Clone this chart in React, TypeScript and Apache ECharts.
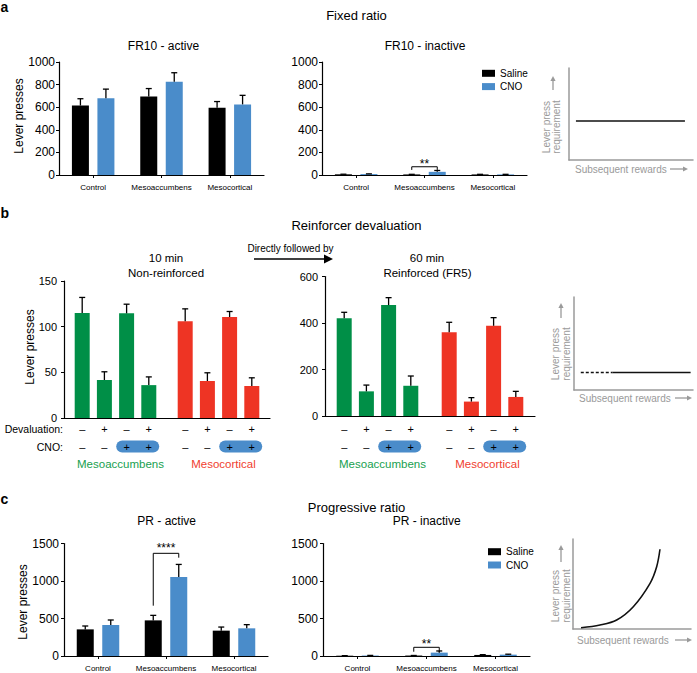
import React, { useEffect, useRef } from 'react';
import * as echarts from 'echarts';

const FONT = '"Liberation Sans", Arial, Helvetica, sans-serif';

// ---------- data ----------
const abCategories = ['Control', 'Mesoaccumbens', 'Mesocortical'];
const seriesNames = ['Saline', 'CNO'];

const fr10ActiveSaline = [615, 695, 595];
const fr10ActiveSalineErr = [60, 70, 55];
const fr10ActiveCNO = [680, 825, 625];
const fr10ActiveCNOErr = [80, 80, 80];

const fr10InactiveSaline = [6, 5, 5];
const fr10InactiveSalineErr = [1, 1, 1];
const fr10InactiveCNO = [8, 28, 5];
const fr10InactiveCNOErr = [2, 12, 1];
const fr10InactiveSig = [1, 45, 45, 73];
const fr10InactiveSigLabel = '**';

const devGroups = ['Mesoaccumbens', 'Mesocortical'];
const devalSigns = ['–', '+', '–', '+'];
const cnoSigns = ['–', '–', '+', '+'];
// [condition][group]
const nonReinforced = [[115, 106], [41.6, 40.5], [114.6, 110.6], [36, 35]];
const nonReinforcedErr = [[17, 13.5], [9, 9], [10, 6], [9, 9]];
const reinforced = [[420, 360], [106, 62], [477, 388], [130, 82]];
const reinforcedErr = [[26, 43], [27, 17], [32, 35], [42, 24]];

const prActiveSaline = [355, 475, 338];
const prActiveSalineErr = [45, 67, 48];
const prActiveCNO = [413, 1052, 369];
const prActiveCNOErr = [67, 169, 49];
const prActiveSig = [1, 671, 1311, 1369];
const prActiveSigLabel = '****';

const prInactiveSaline = [4, 6, 14];
const prInactiveSalineErr = [1, 1, 4];
const prInactiveCNO = [6, 45, 18];
const prInactiveCNOErr = [2, 22, 6];
const prInactiveSig = [1, 57, 57, 116];
const prInactiveSigLabel = '**';

// schematic schedules (axis units 0..10)
const fixedSchedule = [[0.56, 4.24], [9.35, 4.24]];
const devalDashed = [[0.57, 1.88], [3.22, 1.88]];
const devalSolid = [[3.22, 1.88], [9.8, 1.88]];
const progressiveCurve = [[0.68, 0.14], [2.29, 0.44], [3.7, 1.0], [5.11, 2.48], [6.53, 5.08], [7.09, 6.92], [7.37, 8.86]];

// ---------- style ----------
const BLACK = '#000000';
const BLUE = '#4a8cca';
const groupColors = ['#008f47', '#ee3424'];
const groupTextColors = ['#17a04f', '#f0402f'];
const GRAY = '#9a9a9a';

const grids = [
  { left: 59, top: 62, width: 205, height: 113 },
  { left: 322, top: 62, width: 205, height: 113 },
  { left: 569, top: 68, width: 124, height: 92 },
  { left: 64, top: 281, width: 206, height: 137 },
  { left: 325, top: 276.5, width: 210, height: 139.5 },
  { left: 574, top: 297, width: 119, height: 93 },
  { left: 64, top: 543.5, width: 204, height: 112.5 },
  { left: 323, top: 543.5, width: 207, height: 112.5 },
  { left: 573, top: 539, width: 118, height: 90 },
];

const BW_AC = 17;
const GAP_AC = 0.5;
const PITCH_AC = BW_AC * (1 + GAP_AC);
const BW_B = 15;
const GAP_B = 0.48;
const PITCH_B = BW_B * (1 + GAP_B);

const xCat = (gridIndex: number, data: string[], show: boolean) => ({
  type: 'category',
  gridIndex,
  data,
  axisLine: { lineStyle: { color: '#000', width: 1.2 } },
  axisTick: { show, alignWithLabel: true, length: 3, lineStyle: { color: '#000', width: 1 } },
  axisLabel: { show, fontSize: 8, color: '#000', margin: 8, fontFamily: FONT, interval: 0 },
  splitLine: { show: false },
});

const yVal = (gridIndex: number, max: number, interval: number, fontSize: number, margin: number) => ({
  type: 'value',
  gridIndex,
  min: 0,
  max,
  interval,
  axisLine: { show: true, lineStyle: { color: '#000', width: 1.2 } },
  axisTick: { show: true, length: 3, lineStyle: { color: '#000', width: 1 } },
  axisLabel: { fontSize, color: '#000', margin, fontFamily: FONT, formatter: (v: number) => String(v) },
  splitLine: { show: false },
});

const schemAxis = (gridIndex: number) => ({
  type: 'value',
  gridIndex,
  min: 0,
  max: 10,
  axisLine: { show: true, lineStyle: { color: GRAY, width: 1.5 } },
  axisTick: { show: false },
  axisLabel: { show: false },
  splitLine: { show: false },
});

const errSeries = (axis: number, vals: number[], errs: number[], pos: number, n: number, pitch: number) => ({
  type: 'custom',
  xAxisIndex: axis,
  yAxisIndex: axis,
  silent: true,
  z: 5,
  clip: false,
  data: vals.map((v, i) => [i, v, errs[i]]),
  encode: { x: 0, y: 1 },
  renderItem: (params: any, api: any) => {
    const i = api.value(0);
    const v = api.value(1);
    const e = api.value(2);
    const p0 = api.coord([i, v]);
    const p1 = api.coord([i, v + e]);
    const x = p0[0] + (pos - (n - 1) / 2) * pitch;
    return {
      type: 'group',
      children: [
        { type: 'line', shape: { x1: x, y1: p0[1], x2: x, y2: p1[1] }, style: { stroke: '#000', lineWidth: 1.3 } },
        { type: 'line', shape: { x1: x - 3, y1: p1[1], x2: x + 3, y2: p1[1] }, style: { stroke: '#000', lineWidth: 1.3 } },
      ],
    };
  },
});

const sigSeries = (axis: number, sig: number[], label: string, pitch: number, gap: number) => ({
  type: 'custom',
  xAxisIndex: axis,
  yAxisIndex: axis,
  silent: true,
  z: 6,
  clip: false,
  data: [sig],
  encode: { x: 0, y: 3 },
  renderItem: (params: any, api: any) => {
    const i = api.value(0);
    const pL = api.coord([i, api.value(1)]);
    const pR = api.coord([i, api.value(2)]);
    const pT = api.coord([i, api.value(3)]);
    const xL = pL[0] - pitch / 2;
    const xR = pL[0] + pitch / 2;
    return {
      type: 'group',
      children: [
        {
          type: 'polyline',
          shape: { points: [[xL, pL[1]], [xL, pT[1]], [xR, pT[1]], [xR, pR[1]]] },
          style: { stroke: '#000', lineWidth: 1, fill: 'none' },
        },
        {
          type: 'text',
          x: (xL + xR) / 2,
          y: pT[1] - gap,
          style: {
            text: label,
            fontSize: 12,
            fontFamily: FONT,
            fill: '#000',
            align: 'center',
            verticalAlign: 'middle',
            textAlign: 'center',
            textVerticalAlign: 'middle',
          },
        },
      ],
    };
  },
});

const pairBars = (axis: number, saline: number[], salineErr: number[], cno: number[], cnoErr: number[]) => [
  {
    type: 'bar', name: seriesNames[0], xAxisIndex: axis, yAxisIndex: axis, data: saline,
    barWidth: BW_AC, barGap: GAP_AC * 100 + '%', itemStyle: { color: BLACK }, silent: true,
  },
  {
    type: 'bar', name: seriesNames[1], xAxisIndex: axis, yAxisIndex: axis, data: cno,
    barWidth: BW_AC, barGap: GAP_AC * 100 + '%', itemStyle: { color: BLUE }, silent: true,
  },
  errSeries(axis, saline, salineErr, 0, 2, PITCH_AC),
  errSeries(axis, cno, cnoErr, 1, 2, PITCH_AC),
];

const devBars = (axis: number, values: number[][], errs: number[][]) => {
  const out: any[] = [];
  devalSigns.forEach((d, s) => {
    out.push({
      type: 'bar',
      name: `Devaluation ${d} / CNO ${cnoSigns[s]}`,
      xAxisIndex: axis,
      yAxisIndex: axis,
      barWidth: BW_B,
      barGap: GAP_B * 100 + '%',
      silent: true,
      data: devGroups.map((g, gi) => ({ value: values[s][gi], itemStyle: { color: groupColors[gi] } })),
    });
  });
  devalSigns.forEach((d, s) => {
    out.push(errSeries(axis, values[s], errs[s], s, 4, PITCH_B));
  });
  return out;
};

const schemLine = (axis: number, data: number[][], dashed: boolean, smooth: number | boolean) => ({
  type: 'line',
  xAxisIndex: axis,
  yAxisIndex: axis,
  data,
  symbol: 'none',
  smooth,
  silent: true,
  lineStyle: { color: '#111', width: 1.6, type: dashed ? [3, 2] : 'solid' },
});

const legendCfg = (left: number, top: number) => ({
  data: seriesNames,
  orient: 'vertical',
  left,
  top,
  itemWidth: 13,
  itemHeight: 7,
  itemGap: 2.3,
  icon: 'rect',
  selectedMode: false,
  textStyle: { fontSize: 10, lineHeight: 11, fontFamily: FONT, color: '#000' },
});

// ---------- graphic helpers ----------
const txt = (text: string, x: number, y: number, o: any = {}) => ({
  type: 'text',
  x,
  y,
  rotation: o.rot || 0,
  silent: true,
  z: 10,
  style: {
    text,
    fill: o.color || '#000',
    fontSize: o.size || 12,
    fontFamily: FONT,
    fontWeight: o.bold ? 'bold' : 'normal',
    textAlign: o.align || 'center',
    textVerticalAlign: 'middle',
  },
});

const line = (x1: number, y1: number, x2: number, y2: number, color: string, w: number) => ({
  type: 'line', silent: true, z: 10,
  shape: { x1, y1, x2, y2 },
  style: { stroke: color, lineWidth: w },
});

const upArrow = (x: number, yTop: number, yBottom: number) => [
  line(x, yBottom, x, yTop + 4, GRAY, 1.3),
  { type: 'polygon', silent: true, z: 10, shape: { points: [[x - 2.6, yTop + 5], [x, yTop], [x + 2.6, yTop + 5]] }, style: { fill: GRAY } },
];
const rightArrow = (xLeft: number, xRight: number, y: number, color: string, w: number, head: number) => [
  line(xLeft, y, xRight - head + 1, y, color, w),
  {
    type: 'polygon', silent: true, z: 10,
    shape: { points: [[xRight - head, y - head / 2], [xRight, y], [xRight - head, y + head / 2]] },
    style: { fill: color },
  },
];

const schematicLabels = (colA: number, colB: number, cy: number, arrowX: number, arrowTop: number, arrowBottom: number, rewardsX: number, rewardsY: number, arrowL: number, arrowR: number) => [
  txt('Lever press', colA, cy, { rot: Math.PI / 2, size: 10, color: GRAY }),
  txt('requirement', colB, cy, { rot: Math.PI / 2, size: 10, color: GRAY }),
  ...upArrow(arrowX, arrowTop, arrowBottom),
  txt('Subsequent rewards', rewardsX, rewardsY, { size: 10, color: GRAY, align: 'left' }),
  ...rightArrow(arrowL, arrowR, rewardsY, GRAY, 1.3, 5),
];

export default function App() {
  const ref = useRef<HTMLDivElement>(null);

  useEffect(() => {
    if (!ref.current) return;
    const chart = echarts.init(ref.current, null, { renderer: 'svg' });

    const option: any = {
      animation: false,
      backgroundColor: '#ffffff',
      grid: grids.map((g) => ({ ...g, containLabel: false })),
      xAxis: [
        xCat(0, abCategories, true),
        xCat(1, abCategories, true),
        schemAxis(2),
        xCat(3, devGroups, false),
        xCat(4, devGroups, false),
        schemAxis(5),
        xCat(6, abCategories, true),
        xCat(7, abCategories, true),
        schemAxis(8),
      ],
      yAxis: [
        yVal(0, 1000, 200, 12, 4),
        yVal(1, 1000, 200, 12, 4),
        schemAxis(2),
        yVal(3, 150, 50, 11, 7),
        yVal(4, 600, 200, 11, 7),
        schemAxis(5),
        yVal(6, 1500, 500, 12, 5),
        yVal(7, 1500, 500, 12, 5),
        schemAxis(8),
      ],
      legend: [legendCfg(477, 62.8), legendCfg(483, 541.2)],
      series: [
        ...pairBars(0, fr10ActiveSaline, fr10ActiveSalineErr, fr10ActiveCNO, fr10ActiveCNOErr),
        ...pairBars(1, fr10InactiveSaline, fr10InactiveSalineErr, fr10InactiveCNO, fr10InactiveCNOErr),
        sigSeries(1, fr10InactiveSig, fr10InactiveSigLabel, PITCH_AC, 3),
        schemLine(2, fixedSchedule, false, false),
        ...devBars(3, nonReinforced, nonReinforcedErr),
        ...devBars(4, reinforced, reinforcedErr),
        schemLine(5, devalDashed, true, false),
        schemLine(5, devalSolid, false, false),
        ...pairBars(6, prActiveSaline, prActiveSalineErr, prActiveCNO, prActiveCNOErr),
        sigSeries(6, prActiveSig, prActiveSigLabel, PITCH_AC, 5),
        ...pairBars(7, prInactiveSaline, prInactiveSalineErr, prInactiveCNO, prInactiveCNOErr),
        sigSeries(7, prInactiveSig, prInactiveSigLabel, PITCH_AC, 3),
        schemLine(8, progressiveCurve, false, 0.35),
      ],
    };
    chart.setOption(option);

    // condition rows under panel b, positioned from the axes
    const graphic: any[] = [];
    [3, 4].forEach((axis) => {
      devGroups.forEach((g, gi) => {
        const center = chart.convertToPixel({ xAxisIndex: axis } as any, gi) as unknown as number;
        const barX = devalSigns.map((_, s) => center + (s - 1.5) * PITCH_B);
        const pillMid = (barX[2] + barX[3]) / 2;
        graphic.push({
          type: 'rect', silent: true, z: 9,
          shape: { x: pillMid - 21.5, y: 440.6, width: 43, height: 12, r: 6 },
          style: { fill: BLUE },
        });
        devalSigns.forEach((d, s) => {
          graphic.push(txt(d, barX[s], 428.5, { size: 11 }));
          graphic.push(txt(cnoSigns[s], barX[s], 446.7, { size: 11 }));
        });
        graphic.push(txt(g, center + 5, 464, { size: 11.5, color: groupTextColors[gi] }));
      });
    });

    graphic.push(
      // panel a
      txt('a', 0.5, 7, { bold: true, size: 14, align: 'left' }),
      txt('Fixed ratio', 356.5, 15, { size: 13 }),
      txt('FR10 - active', 163.5, 46, { size: 12 }),
      txt('FR10 - inactive', 425, 46, { size: 12 }),
      txt('Lever presses', 19, 116, { rot: Math.PI / 2, size: 12 }),
      ...schematicLabels(546, 556.7, 127, 553, 76, 90, 575, 169, 670, 688),
      // panel b
      txt('b', 0.5, 212.5, { bold: true, size: 14, align: 'left' }),
      txt('Reinforcer devaluation', 356.5, 225, { size: 13 }),
      txt('10 min', 166, 257.7, { size: 11.5 }),
      txt('Non-reinforced', 166, 272.7, { size: 11.5 }),
      txt('60 min', 427, 257.7, { size: 11.5 }),
      txt('Reinforced (FR5)', 427.5, 272.7, { size: 11.5 }),
      txt('Directly followed by', 290.5, 248.3, { size: 10 }),
      ...rightArrow(254, 333, 259, '#000', 1.4, 9),
      txt('Lever presses', 29.5, 347, { rot: Math.PI / 2, size: 12 }),
      txt('Devaluation:', 63, 429.3, { size: 10.5, align: 'right' }),
      txt('CNO:', 63, 446.7, { size: 10.5, align: 'right' }),
      ...schematicLabels(555, 566.7, 354, 561, 303, 318, 579, 398, 675, 692),
      // panel c
      txt('c', 0.5, 499, { bold: true, size: 14, align: 'left' }),
      txt('Progressive ratio', 356.5, 507, { size: 13 }),
      txt('PR - active', 166.7, 521, { size: 12 }),
      txt('PR - inactive', 426.7, 521, { size: 12 }),
      txt('Lever presses', 22.5, 602, { rot: Math.PI / 2, size: 12 }),
      ...schematicLabels(555, 566.7, 596, 561, 545, 562, 577, 640, 675, 692),
    );

    chart.setOption({ graphic });

    return () => chart.dispose();
  }, []);

  return (
    <div
      ref={ref}
      style={{ position: 'absolute', left: 0, top: 0, width: 697, height: 673, background: '#fff' }}
    />
  );
}
